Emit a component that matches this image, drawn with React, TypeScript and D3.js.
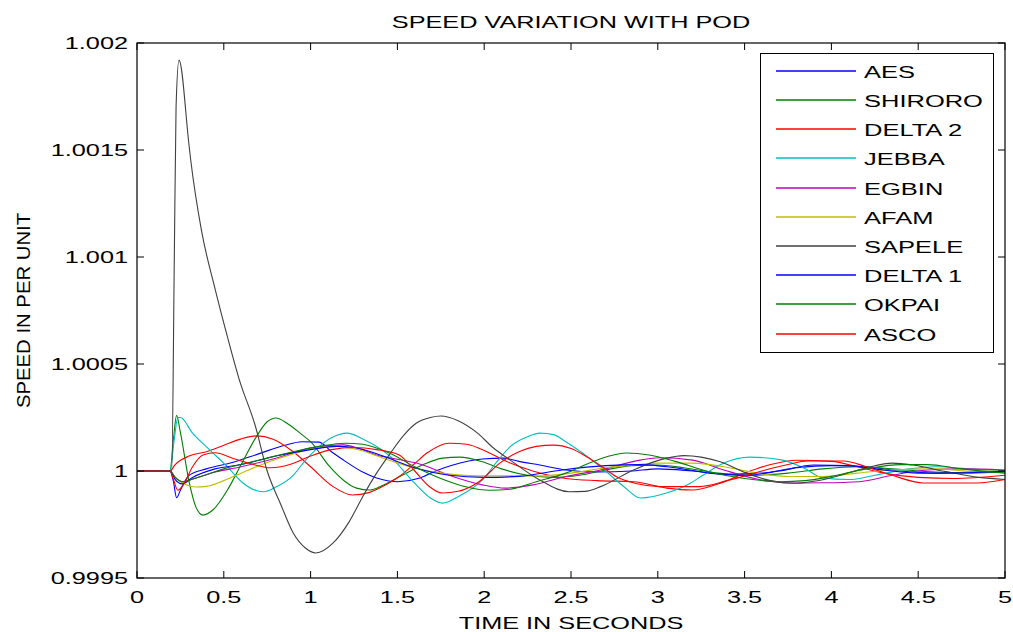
import React from "react";
import * as d3 from "d3";

// Deviation from 1 pu, in units of 1e-4 pu, as [time (s), deviation]
const AES: [number, number][] = [[0,0],[0.19,0],[0.21,-0.5],[0.228,-1.25],[0.25,-0.9],[0.3,-0.2],[0.4,0.1],[0.55,0.4],[0.7,0.8],[0.85,1.2],[0.95,1.37],[1.05,1.35],[1.12,0.9],[1.19,0.51],[1.3,-0.05],[1.38,-0.33],[1.5,-0.5],[1.63,-0.33],[1.72,0.0],[1.82,0.28],[1.99,0.56],[2.11,0.6],[2.2,0.45],[2.32,0.28],[2.47,0.05],[2.65,-0.05],[2.85,0.0],[3.0,0.1],[3.2,0.0],[3.4,-0.15],[3.6,-0.1],[3.8,0.15],[4.0,0.25],[4.2,0.2],[4.4,0.0],[4.6,-0.1],[4.8,-0.05],[5,0.0]];
const SHIRORO: [number, number][] = [[0,0],[0.19,0],[0.21,1.5],[0.228,2.6],[0.25,1.8],[0.3,-0.5],[0.34,-1.7],[0.38,-2.06],[0.44,-1.8],[0.52,-0.9],[0.6,0.3],[0.68,1.5],[0.75,2.3],[0.8,2.48],[0.87,2.2],[0.95,1.7],[1.0,1.37],[1.11,0.2],[1.2,-0.5],[1.265,-0.8],[1.34,-0.89],[1.42,-0.65],[1.53,-0.19],[1.65,0.3],[1.76,0.6],[1.86,0.65],[1.99,0.43],[2.1,0.1],[2.25,-0.2],[2.4,-0.3],[2.55,-0.2],[2.7,0.05],[2.85,0.25],[3.0,0.28],[3.15,0.15],[3.35,-0.1],[3.55,-0.2],[3.75,-0.1],[3.95,0.1],[4.15,0.2],[4.35,0.1],[4.6,-0.05],[4.8,-0.1],[5,-0.05]];
const DELTA2: [number, number][] = [[0,0],[0.19,0],[0.22,0.3],[0.3,0.7],[0.4,0.9],[0.5,1.2],[0.6,1.5],[0.69,1.64],[0.78,1.5],[0.9,0.9],[1.0,0.2],[1.13,-0.73],[1.24,-1.12],[1.34,-1.0],[1.42,-0.7],[1.51,-0.26],[1.6,0.35],[1.67,0.84],[1.8,1.3],[1.9,1.25],[2.03,0.84],[2.15,0.37],[2.28,0.0],[2.47,-0.35],[2.65,-0.45],[2.86,-0.5],[3.05,-0.8],[3.2,-0.89],[3.35,-0.6],[3.5,-0.1],[3.65,0.3],[3.8,0.5],[4.0,0.45],[4.15,0.2],[4.3,-0.1],[4.5,-0.3],[4.7,-0.35],[5,-0.2]];
const JEBBA: [number, number][] = [[0,0],[0.19,0],[0.215,1.5],[0.235,2.5],[0.25,2.5],[0.32,1.77],[0.42,0.98],[0.52,0.2],[0.61,-0.56],[0.69,-0.92],[0.73,-0.97],[0.8,-0.75],[0.9,-0.2],[0.97,0.5],[1.03,1.0],[1.12,1.55],[1.21,1.77],[1.3,1.5],[1.46,0.67],[1.58,-0.4],[1.69,-1.26],[1.76,-1.5],[1.85,-1.2],[1.99,-0.42],[2.07,0.4],[2.15,1.14],[2.25,1.6],[2.32,1.77],[2.4,1.7],[2.47,1.37],[2.67,0.2],[2.8,-0.7],[2.9,-1.26],[3.05,-1.03],[3.19,-0.56],[3.26,-0.2],[3.38,0.37],[3.53,0.65],[3.72,0.51],[3.85,0.1],[3.95,-0.33],[4.1,-0.4],[4.25,-0.2],[4.45,0.1],[4.6,0.2],[4.8,0.1],[5,0.0]];
const EGBIN: [number, number][] = [[0,0],[0.19,0],[0.22,-0.3],[0.26,-0.5],[0.33,-0.35],[0.45,-0.05],[0.6,0.2],[0.8,0.6],[1.0,1.07],[1.19,1.22],[1.28,1.05],[1.38,0.75],[1.5,0.55],[1.61,0.37],[1.82,-0.26],[1.99,-0.65],[2.12,-0.8],[2.28,-0.65],[2.47,-0.26],[2.67,0.05],[2.9,0.51],[3.01,0.62],[3.2,0.51],[3.38,0.05],[3.57,-0.37],[3.76,-0.56],[3.95,-0.55],[4.16,-0.5],[4.35,-0.2],[4.55,0.05],[4.75,0.1],[5,0.05]];
const AFAM: [number, number][] = [[0,0],[0.19,0],[0.22,-0.3],[0.27,-0.6],[0.34,-0.75],[0.4,-0.72],[0.5,-0.45],[0.6,-0.1],[0.75,0.4],[0.9,0.8],[1.05,1.1],[1.15,1.15],[1.28,0.98],[1.42,0.6],[1.57,0.2],[1.76,-0.1],[1.96,-0.23],[2.3,-0.23],[2.5,-0.1],[2.7,0.15],[2.86,0.28],[3.0,0.37],[3.2,0.37],[3.38,0.2],[3.57,-0.1],[3.76,-0.26],[3.95,-0.26],[4.15,-0.1],[4.35,0.05],[4.6,0.1],[4.8,0.0],[5,0.0]];
const SAPELE: [number, number][] = [[0,0],[0.2,0],[0.215,10],[0.225,17],[0.242,19.2],[0.3,15.2],[0.31,14.5],[0.37,11.3],[0.45,8.5],[0.52,6.3],[0.59,4.25],[0.68,2.15],[0.75,0],[0.83,-1.6],[0.9,-2.9],[0.97,-3.6],[1.03,-3.83],[1.13,-3.36],[1.22,-2.4],[1.3,-1.2],[1.38,-0.1],[1.46,0.84],[1.54,1.7],[1.61,2.24],[1.69,2.5],[1.75,2.57],[1.85,2.35],[1.96,1.78],[2.05,1.1],[2.15,0.51],[2.32,-0.42],[2.49,-0.97],[2.58,-0.95],[2.67,-0.73],[2.86,0.05],[3.05,0.6],[3.15,0.72],[3.25,0.65],[3.36,0.43],[3.51,-0.1],[3.65,-0.45],[3.78,-0.57],[3.88,-0.5],[3.97,-0.37],[4.2,0.14],[4.35,0.37],[4.47,0.28],[4.66,-0.03],[4.85,-0.3],[5,-0.4]];
const DELTA1: [number, number][] = [[0,0],[0.19,0],[0.22,-0.4],[0.26,-0.6],[0.32,-0.3],[0.45,0.1],[0.6,0.3],[0.8,0.7],[1.0,1.0],[1.15,1.15],[1.25,1.1],[1.4,0.75],[1.6,0.15],[1.8,-0.2],[2.0,-0.3],[2.2,-0.25],[2.45,0.05],[2.7,0.25],[2.9,0.3],[3.1,0.15],[3.3,-0.1],[3.5,-0.2],[3.7,0.0],[3.9,0.28],[4.1,0.25],[4.3,0.05],[4.5,-0.1],[4.7,-0.1],[5,0.0]];
const OKPAI: [number, number][] = [[0,0],[0.19,0],[0.22,-0.3],[0.26,-0.5],[0.35,-0.3],[0.5,0.1],[0.7,0.5],[0.9,0.9],[1.05,1.15],[1.2,1.3],[1.3,1.25],[1.45,0.85],[1.6,0.2],[1.75,-0.35],[1.9,-0.75],[2.03,-0.9],[2.15,-0.85],[2.3,-0.5],[2.47,-0.1],[2.6,0.35],[2.72,0.7],[2.82,0.84],[2.95,0.75],[3.1,0.45],[3.3,-0.05],[3.5,-0.35],[3.7,-0.5],[3.85,-0.45],[4.0,-0.25],[4.2,0.1],[4.4,0.3],[4.55,0.3],[4.75,0.1],[5,-0.1]];
const ASCO: [number, number][] = [[0,0],[0.19,0],[0.21,-0.4],[0.235,-0.9],[0.27,-0.6],[0.32,0.2],[0.38,0.75],[0.45,0.85],[0.55,0.6],[0.65,0.35],[0.77,0.15],[0.88,0.3],[1.0,0.7],[1.12,1.0],[1.25,1.1],[1.38,1.0],[1.51,0.75],[1.6,0.0],[1.68,-0.7],[1.76,-1.03],[1.85,-0.95],[1.97,-0.5],[2.09,0.37],[2.2,0.9],[2.3,1.15],[2.4,1.21],[2.5,1.05],[2.59,0.67],[2.68,0.2],[2.76,-0.26],[2.88,-0.6],[3.01,-0.73],[3.24,-0.73],[3.4,-0.45],[3.6,0.0],[3.75,0.3],[3.86,0.47],[4.07,0.47],[4.2,0.2],[4.35,-0.2],[4.53,-0.56],[4.84,-0.56],[5,-0.4]];

const SERIES_NAMES = ["AES", "SHIRORO", "DELTA 2", "JEBBA", "EGBIN", "AFAM", "SAPELE", "DELTA 1", "OKPAI", "ASCO"];
const SERIES_DATA = [AES, SHIRORO, DELTA2, JEBBA, EGBIN, AFAM, SAPELE, DELTA1, OKPAI, ASCO];
const SERIES_COLORS = ["#0000FF", "#008000", "#FF0000", "#00BFBF", "#BF00BF", "#BFBF00", "#404040", "#0000FF", "#008000", "#FF0000"];

const X_TICKS = [0, 0.5, 1, 1.5, 2, 2.5, 3, 3.5, 4, 4.5, 5];
const Y_TICKS = [0.9995, 1, 1.0005, 1.001, 1.0015, 1.002];
const Y_TICK_LABELS = ["0.9995", "1", "1.0005", "1.001", "1.0015", "1.002"];

const TITLE = "SPEED VARIATION WITH POD";
const X_LABEL = "TIME IN SECONDS";
const Y_LABEL = "SPEED IN PER UNIT";

const W = 1013, H = 632;
const L = 137, R = 1005, T = 43, B = 578;
const FONT = "'Liberation Sans', Arial, sans-serif";
const SX = 1.58; // horizontal stretch of text

export default function App() {
  const x = d3.scaleLinear().domain([0, 5]).range([L, R]);
  const y = d3.scaleLinear().domain([0.9995, 1.002]).range([B, T]);
  const line = d3
    .line<[number, number]>()
    .x((d) => x(d[0]))
    .y((d) => y(1 + d[1] * 1e-4))
    .curve(d3.curveMonotoneX);
  const tickLen = 7;
  const legX = 760.5, legY = 53.5, legW = 233, legH = 299;
  const rowH = 29.2;

  const hText = (tx: number, ty: number, s: string, anchor: string, size = 16, sx = SX) => (
    <g transform={`translate(${tx},${ty}) scale(${sx},1)`}>
      <text x={0} y={0} fontSize={size} fontFamily={FONT} textAnchor={anchor} fill="#000">
        {s}
      </text>
    </g>
  );

  return (
    <svg width={W} height={H} style={{ position: "absolute", left: 0, top: 0, background: "#fff" }}>
      <rect x={0} y={0} width={W} height={H} fill="#fff" />
      <defs>
        <clipPath id="plotclip">
          <rect x={L} y={T} width={R - L} height={B - T} />
        </clipPath>
      </defs>
      <g clipPath="url(#plotclip)">
        {SERIES_DATA.map((s, i) => (
          <path key={i} d={line(s) || ""} fill="none" stroke={SERIES_COLORS[i]} strokeWidth={1.1} />
        ))}
      </g>
      <rect x={L} y={T} width={R - L} height={B - T} fill="none" stroke="#000" strokeWidth={1.2} />
      {X_TICKS.map((t, i) => (
        <g key={"xt" + i}>
          <line x1={x(t)} x2={x(t)} y1={B} y2={B - tickLen} stroke="#000" />
          <line x1={x(t)} x2={x(t)} y1={T} y2={T + tickLen} stroke="#000" />
          {hText(x(t), B + 25, String(t), "middle", 16)}
        </g>
      ))}
      {Y_TICKS.map((t, i) => (
        <g key={"yt" + i}>
          <line x1={L} x2={L + tickLen} y1={y(t)} y2={y(t)} stroke="#000" />
          <line x1={R} x2={R - tickLen} y1={y(t)} y2={y(t)} stroke="#000" />
          {hText(L - 9, y(t) + 6, Y_TICK_LABELS[i], "end", 16)}
        </g>
      ))}
      {hText((L + R) / 2, 28, TITLE, "middle", 16)}
      {hText((L + R) / 2, 629, X_LABEL, "middle", 16)}
      <g transform={`translate(30,${(T + B) / 2}) rotate(-90) scale(1.27,1.15)`}>
        <text x={0} y={0} fontSize={16} fontFamily={FONT} textAnchor="middle" fill="#000">
          {Y_LABEL}
        </text>
      </g>
      <rect x={legX} y={legY} width={legW} height={legH} fill="#fff" stroke="#000" strokeWidth={1} />
      {SERIES_NAMES.map((n, i) => {
        const yy = Math.round(legY + 17.2 + i * rowH);
        return (
          <g key={"lg" + i}>
            <line x1={776} x2={856} y1={yy} y2={yy} stroke={SERIES_COLORS[i]} strokeWidth={1.5} />
            {hText(864, yy + 7, n, "start", 17, 1.5)}
          </g>
        );
      })}
    </svg>
  );
}
